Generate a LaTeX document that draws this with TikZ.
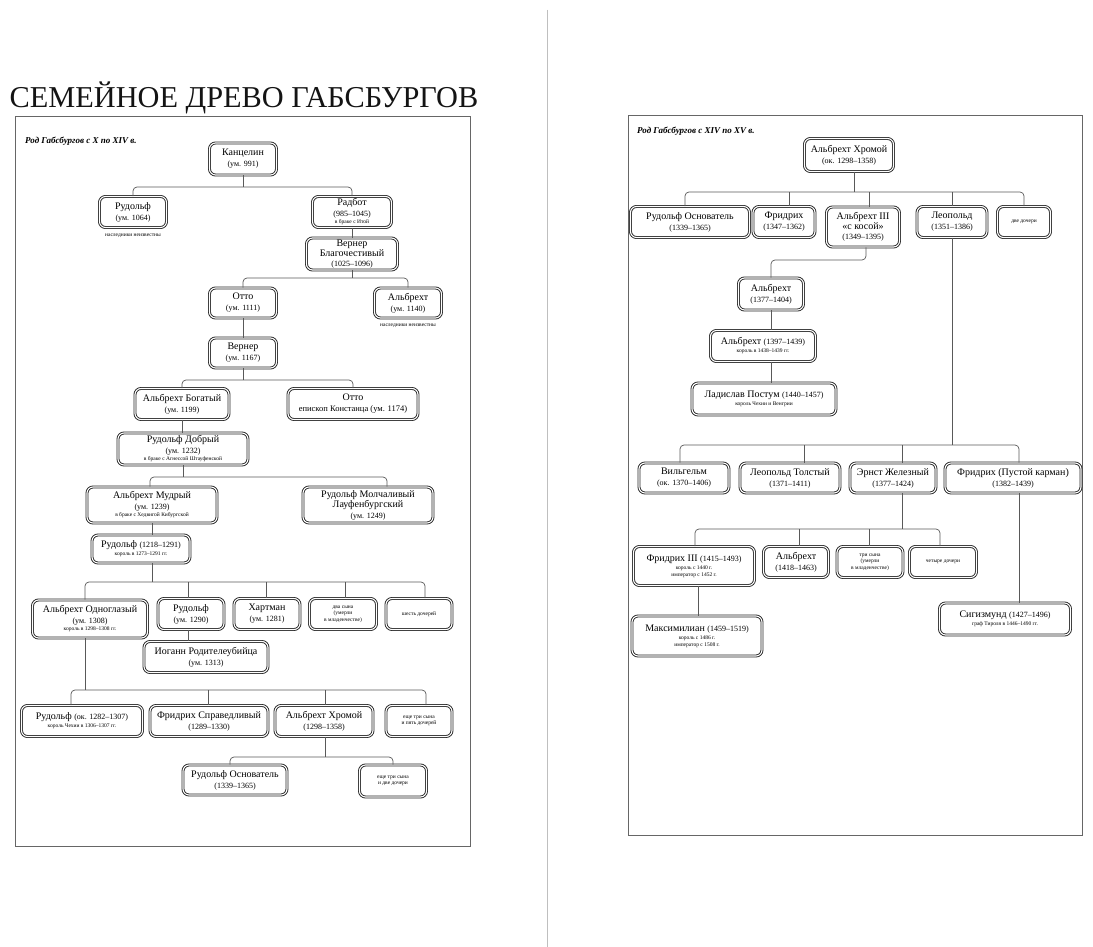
\documentclass[tikz,border=0pt]{standalone}
\usepackage{fontspec}
\setmainfont{Liberation Serif}
\newcommand\yd[1]{{\fontsize{8}{9}\selectfont #1}}
\newcommand\ys[1]{{\fontsize{5.5}{6}\selectfont #1}}
\tikzset{
  box/.style={draw=black!85, double=white, double distance=1.1pt, line width=0.9pt,
    rounded corners=6pt, fill=white, align=center, inner sep=1pt,
    font=\fontsize{10}{11}\selectfont, text=black},
  sbox/.style={box, font=\fontsize{5.5}{6.5}\selectfont},
  conn/.style={draw=black!65, line width=0.7pt, rounded corners=4pt},
  note/.style={font=\fontsize{5.5}{6}\selectfont, inner sep=0pt, text=black},
  frame/.style={draw=black!60, line width=0.8pt},
  ptitle/.style={font=\fontsize{9}{10}\selectfont\bfseries\itshape, inner sep=0pt, anchor=west, text=black}
}
\begin{document}
\begin{tikzpicture}[x=1pt,y=-1pt]
\useasboundingbox (0,0) rectangle (1093,947);
\fill[white] (0,0) rectangle (1093,947);
% divider
\draw[black!25, line width=0.8pt] (547,10) -- (547,947);
% main title
\node[font=\fontsize{30.3}{32}\selectfont, text=black!92, inner sep=0pt] (mtitle) at (244,98) {СЕМЕЙНОЕ ДРЕВО ГАБСБУРГОВ};
% frames
\draw[frame] (15,116) rectangle (470,846);
\draw[frame] (628,115) rectangle (1082,835);
\node[ptitle] (t1) at (25,141) {Род Габсбургов с X по XIV в.};
\node[ptitle] (t2) at (637,131) {Род Габсбургов с XIV по XV в.};

% ---------------- LEFT TREE ----------------
\node[box, minimum width=67pt, minimum height=32pt] (kanc) at (243,159) {Канцелин\\\yd{(ум. 991)}};
\node[box, minimum width=67pt, minimum height=31pt] (rud1) at (133,212) {Рудольф\\\yd{(ум. 1064)}};
\node[note] (n1) at (133,236) {наследники неизвестны};
\node[box, minimum width=79pt, minimum height=31pt] (radb) at (352,212) {Радбот\\\yd{(985–1045)}\\[-4pt]\ys{в браке с Итой}};
\node[box, minimum width=91pt, minimum height=32pt, font=\fontsize{10}{10}\selectfont] (wern) at (352,254) {Вернер\\Благочестивый\\\yd{(1025–1096)}};
\node[box, minimum width=67pt, minimum height=30pt] (otto1) at (243,303) {Отто\\\yd{(ум. 1111)}};
\node[box, minimum width=67pt, minimum height=30pt] (alb1) at (408,303) {Альбрехт\\\yd{(ум. 1140)}};
\node[note] (n2) at (408,326) {наследники неизвестны};
\node[box, minimum width=67pt, minimum height=30pt] (wern2) at (243,353) {Вернер\\\yd{(ум. 1167)}};
\node[box, minimum width=94pt, minimum height=31pt] (albb) at (182,404) {Альбрехт Богатый\\\yd{(ум. 1199)}};
\node[box, minimum width=130pt, minimum height=31pt] (otto2) at (353,404) {Отто\\{\fontsize{8.5}{9}\selectfont епископ Констанца (ум. 1174)}};
\node[box, minimum width=130pt, minimum height=32pt] (rudd) at (183,449) {Рудольф Добрый\\\yd{(ум. 1232)}\\[-4pt]\ys{в браке с Агнессой Штауфенской}};
\node[box, minimum width=130pt, minimum height=36pt] (albm) at (152,505) {Альбрехт Мудрый\\\yd{(ум. 1239)}\\[-4pt]\ys{в браке с Хедвигой Кибургской}};
\node[box, minimum width=130pt, minimum height=36pt, font=\fontsize{10}{10.5}\selectfont] (rudm) at (368,505) {Рудольф Молчаливый\\Лауфенбургский\\\yd{(ум. 1249)}};
\node[box, minimum width=98pt, minimum height=28pt] (rudk) at (141,549) {Рудольф \yd{(1218–1291)}\\[-3pt]\ys{король в 1273–1291 гг.}};
\node[box, minimum width=115pt, minimum height=38pt] (albo) at (90,619) {Альбрехт Одноглазый\\\yd{(ум. 1308)}\\[-4pt]\ys{король в 1298–1308 гг.}};
\node[box, minimum width=66pt, minimum height=31pt] (rud2) at (191,614) {Рудольф\\\yd{(ум. 1290)}};
\node[box, minimum width=66pt, minimum height=31pt] (hart) at (267,614) {Хартман\\\yd{(ум. 1281)}};
\node[sbox, minimum width=67pt, minimum height=31pt] (dva) at (343,614) {два сына\\(умерли\\в младенчестве)};
\node[sbox, minimum width=66pt, minimum height=31pt] (shest) at (419,614) {шесть дочерей};
\node[box, minimum width=124pt, minimum height=31pt] (iog) at (206,657) {Иоганн Родителеубийца\\\yd{(ум. 1313)}};
\node[box, minimum width=121pt, minimum height=31pt] (rud3) at (82,721) {Рудольф \yd{(ок. 1282–1307)}\\[-3pt]\ys{король Чехии в 1306–1307 гг.}};
\node[box, minimum width=118pt, minimum height=31pt] (frs) at (209,721) {Фридрих Справедливый\\\yd{(1289–1330)}};
\node[box, minimum width=98pt, minimum height=31pt] (albh) at (324,721) {Альбрехт Хромой\\\yd{(1298–1358)}};
\node[sbox, minimum width=66pt, minimum height=31pt] (esch1) at (419,721) {еще три сына\\и пять дочерей};
\node[box, minimum width=104pt, minimum height=30pt] (rudo) at (235,780) {Рудольф Основатель\\\yd{(1339–1365)}};
\node[sbox, minimum width=67pt, minimum height=32pt] (esch2) at (393,781) {еще три сына\\и две дочери};

% left connectors
\draw[conn] (kanc.south) -- (kanc.south |- 0,187);
\draw[conn] (rud1.north) |- (kanc.south |- 0,187) -| (radb.north);
\draw[conn] (radb.south) -- (wern.north);
\draw[conn] (wern.south) -- (wern.south |- 0,278);
\draw[conn] (otto1.north) |- (wern.south |- 0,278) -| (alb1.north);
\draw[conn] (otto1.south) -- (wern2.north);
\draw[conn] (wern2.south) -- (wern2.south |- 0,380);
\draw[conn] (albb.north) |- (wern2.south |- 0,380) -| (otto2.north);
\draw[conn] (albb.south) -- (albb.south |- rudd.north);
\draw[conn] (rudd.south) -- (rudd.south |- 0,477);
\draw[conn] (albm.north -| 150,0) |- (rudd.south |- 0,477) -| (387,0 |- rudm.north);
\draw[conn] (albm.south) -- (albm.south |- rudk.north);
\draw[conn] (albm.south |- rudk.south) -- (albm.south |- 0,582);
\draw[conn] (albo.north -| 85,0) |- (albm.south |- 0,582) -| (shest.north -| 425,0);
\draw[conn] (rud2.north -| 188,0) -- (188,582);
\draw[conn] (hart.north -| 266,0) -- (266,582);
\draw[conn] (dva.north -| 345,0) -- (345,582);
\draw[conn] (rud2.south -| 188,0) -- (iog.north -| 188,0);
\draw[conn] (albo.south -| 85,0) -- (85,690);
\draw[conn] (rud3.north -| 71,0) |- (85,690) -| (esch1.north -| 426,0);
\draw[conn] (frs.north -| 208,0) -- (208,690);
\draw[conn] (albh.north -| 325,0) -- (325,690);
\draw[conn] (albh.south -| 325,0) -- (325,757);
\draw[conn] (rudo.north -| 230,0) |- (325,757) -| (esch2.north);

% ---------------- RIGHT TREE ----------------
\node[box, minimum width=89pt, minimum height=33pt] (albh2) at (849,155) {Альбрехт Хромой\\\yd{(ок. 1298–1358)}};
\node[box, minimum width=119pt, minimum height=31pt] (rudo2) at (690,222) {Рудольф Основатель\\\yd{(1339–1365)}};
\node[box, minimum width=62pt, minimum height=31pt] (fr2) at (784,222) {Фридрих\\\yd{(1347–1362)}};
\node[box, minimum width=73pt, minimum height=40pt, font=\fontsize{10}{10}\selectfont] (alb3) at (863,227) {Альбрехт III\\«с косой»\\\yd{(1349–1395)}};
\node[box, minimum width=70pt, minimum height=31pt] (leop) at (952,222) {Леопольд\\\yd{(1351–1386)}};
\node[sbox, minimum width=53pt, minimum height=31pt] (dvd) at (1024,222) {две дочери};
\node[box, minimum width=65pt, minimum height=32pt] (alb4) at (771,294) {Альбрехт\\\yd{(1377–1404)}};
\node[box, minimum width=105pt, minimum height=31pt] (alb5) at (763,346) {Альбрехт \yd{(1397–1439)}\\[-3pt]\ys{король в 1438–1439 гг.}};
\node[box, minimum width=144pt, minimum height=32pt] (lad) at (764,399) {Ладислав Постум \yd{(1440–1457)}\\[-3pt]\ys{король Чехии и Венгрии}};
\node[box, minimum width=90pt, minimum height=30pt] (wil) at (684,478) {Вильгельм\\\yd{(ок. 1370–1406)}};
\node[box, minimum width=100pt, minimum height=30pt] (leot) at (790,478) {Леопольд Толстый\\\yd{(1371–1411)}};
\node[box, minimum width=86pt, minimum height=30pt] (ern) at (893,478) {Эрнст Железный\\\yd{(1377–1424)}};
\node[box, minimum width=136pt, minimum height=30pt] (frp) at (1013,478) {Фридрих (Пустой карман)\\\yd{(1382–1439)}};
\node[box, minimum width=121pt, minimum height=39pt] (fr3) at (694,566) {Фридрих III \yd{(1415–1493)}\\[-3pt]\ys{король с 1440 г.}\\[-4pt]\ys{император с 1452 г.}};
\node[box, minimum width=65pt, minimum height=31pt] (alb6) at (796,562) {Альбрехт\\\yd{(1418–1463)}};
\node[sbox, minimum width=66pt, minimum height=31pt] (tri) at (870,562) {три сына\\(умерли\\в младенчестве)};
\node[sbox, minimum width=67pt, minimum height=31pt] (chet) at (943,562) {четыре дочери};
\node[box, minimum width=131pt, minimum height=32pt] (sig) at (1005,619) {Сигизмунд \yd{(1427–1496)}\\[-3pt]\ys{граф Тироля в 1446–1490 гг.}};
\node[box, minimum width=130pt, minimum height=40pt] (maxi) at (697,636) {Максимилиан \yd{(1459–1519)}\\[-3pt]\ys{король с 1486 г.}\\[-4pt]\ys{император с 1508 г.}};

% right connectors
\draw[conn] (albh2.south -| 854,0) -- (854,192);
\draw[conn] (rudo2.north -| 685,0) |- (854,192) -| (dvd.north);
\draw[conn] (fr2.north -| 789,0) -- (789,192);
\draw[conn] (alb3.north -| 869,0) -- (869,192);
\draw[conn] (leop.north) -- (leop.north |- 0,192);
\draw[conn] (alb3.south -| 866,0) |- (alb4.north |- 0,260) -- (alb4.north);
\draw[conn] (alb4.south) -- (alb4.south |- alb5.north);
\draw[conn] (alb4.south |- alb5.south) -- (alb4.south |- lad.north);
\draw[conn] (leop.south) -- (leop.south |- 0,445);
\draw[conn] (wil.north -| 680,0) |- (leop.south |- 0,445) -| (frp.north -| 1019,0);
\draw[conn] (leot.north -| 804,0) -- (804,445);
\draw[conn] (ern.north -| 902,0) -- (902,445);
\draw[conn] (ern.south -| 902,0) -- (902,529);
\draw[conn] (fr3.north -| 695,0) |- (902,529) -| (chet.north -| 940,0);
\draw[conn] (alb6.north -| 799,0) -- (799,529);
\draw[conn] (tri.north -| 869,0) -- (869,529);
\draw[conn] (frp.south -| 1019,0) -- (sig.north -| 1019,0);
\draw[conn] (fr3.south -| 698,0) -- (maxi.north -| 698,0);
\end{tikzpicture}
\end{document}
